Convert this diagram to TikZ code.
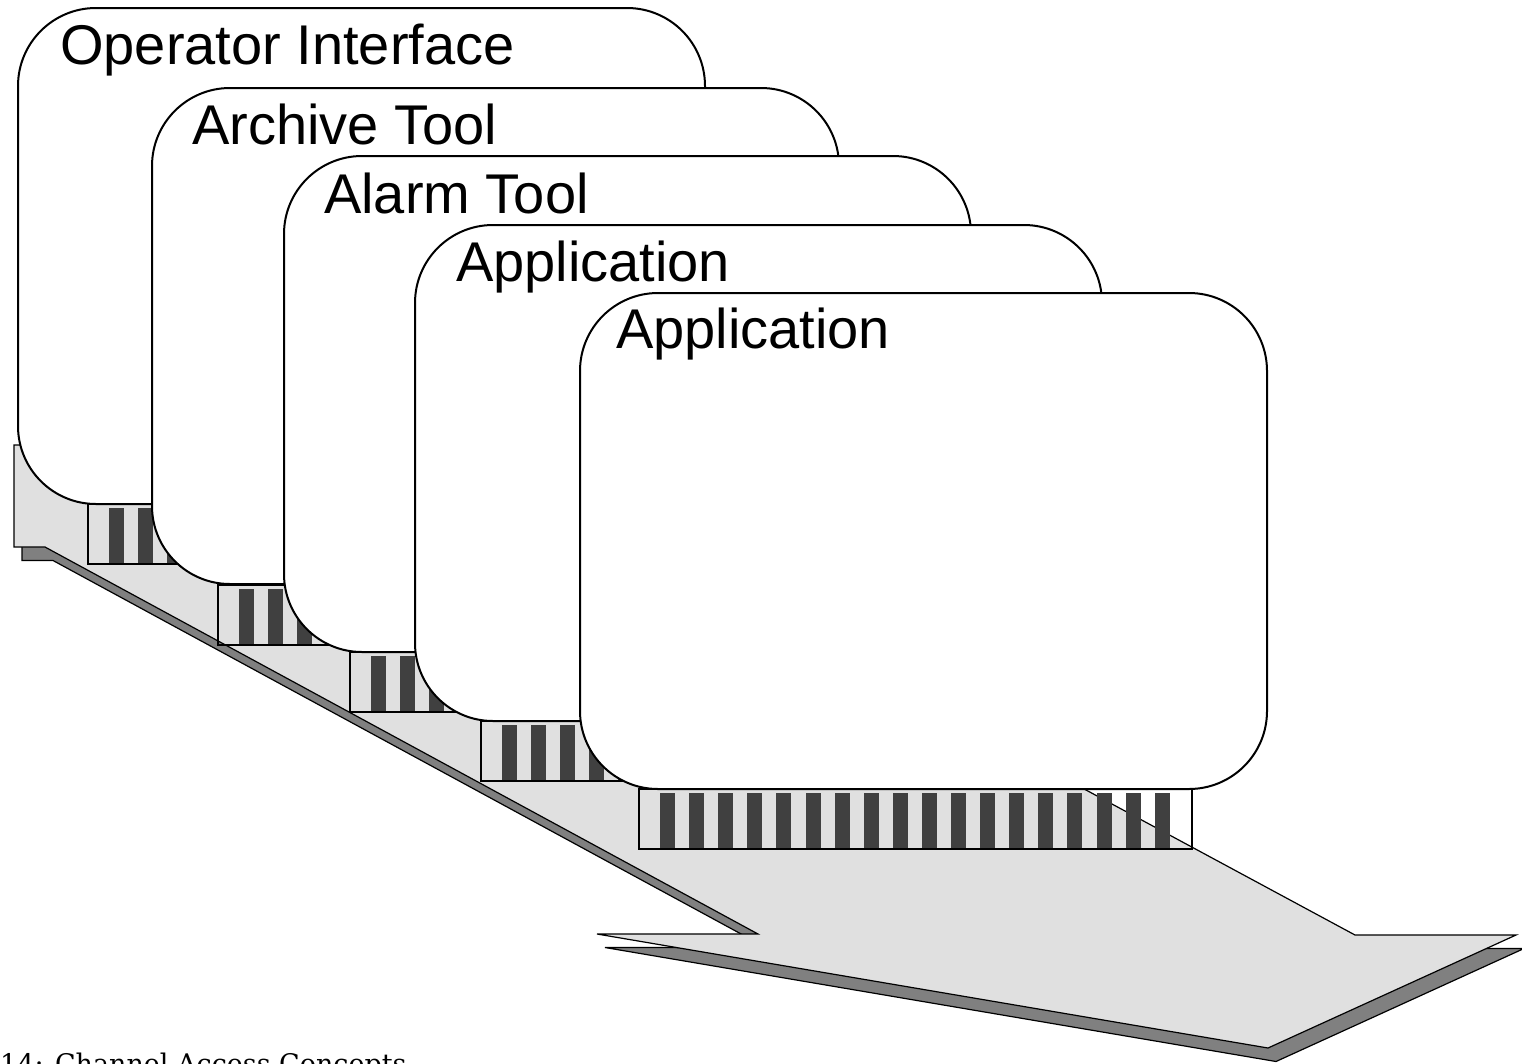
\documentclass[tikz,border=0pt]{standalone}
\usepackage{fontspec}
\setmainfont{Liberation Sans}
\newfontfamily\capfont{DejaVu Serif}
\usetikzlibrary{calc}
\definecolor{arrowgrey}{HTML}{E0E0E0}
\definecolor{shadowgrey}{HTML}{808080}
\definecolor{bargrey}{HTML}{404040}
\begin{document}
\begin{tikzpicture}[x=1pt,y=-1pt,
  panel/.style={draw=black, line width=2pt, fill=white, rounded corners=78pt, minimum width=687pt, minimum height=496pt, inner sep=0pt, outer sep=0pt, anchor=north west},
  strip/.style={draw=black, line width=1.5pt, minimum width=553pt, minimum height=60pt, inner sep=0pt, outer sep=0pt, anchor=north west},
  bar/.style={fill=bargrey},
  title/.style={font=\fontsize{56}{60}\selectfont, inner sep=0pt, anchor=base west},
  arrowbody/.style={draw=black, line width=1.2pt, line join=miter},
]
\useasboundingbox (0,0) rectangle (1522,1063);
% arrow shadow
\filldraw[arrowbody, fill=shadowgrey, shift={(8,13.5)}]
  (14,445) -- (14,547) -- (45,547) -- (758,934) -- (597,934) -- (1268,1048) -- (1516,935) -- (1355,935) -- (446,445) -- cycle;
% arrow
\filldraw[arrowbody, fill=arrowgrey]
  (14,445) -- (14,547) -- (45,547) -- (758,934) -- (597,934) -- (1268,1048) -- (1516,935) -- (1355,935) -- (446,445) -- cycle;
% panels with their connector strips
\foreach \i/\bx/\by/\sx/\sy/\tx/\ty/\txt in {
 1/18/8/88/504/60/64/Operator Interface,
 2/152/88/218/585/192/144/Archive Tool,
 3/284/156/350/652/324/213/Alarm Tool,
 4/415/225/481/721/456/281/Application,
 5/580/293/639/789/616/348/Application}{
  \node[panel] (b\i) at (\bx,\by) {};
  \node[title] (t\i) at (\tx,\ty) {\txt};
  \node[strip] (s\i) at (\sx,\sy) {};
  \foreach \k in {0,...,17}
    \fill[bar] ($(s\i.north west)+(21+29.1*\k,4)$) rectangle ++(15,55.3);
}
\node[font=\capfont\fontsize{27}{30}\selectfont, anchor=base west, inner sep=0pt] (cap) at (0,1073) {14: Channel Access Concepts};
\end{tikzpicture}
\end{document}
